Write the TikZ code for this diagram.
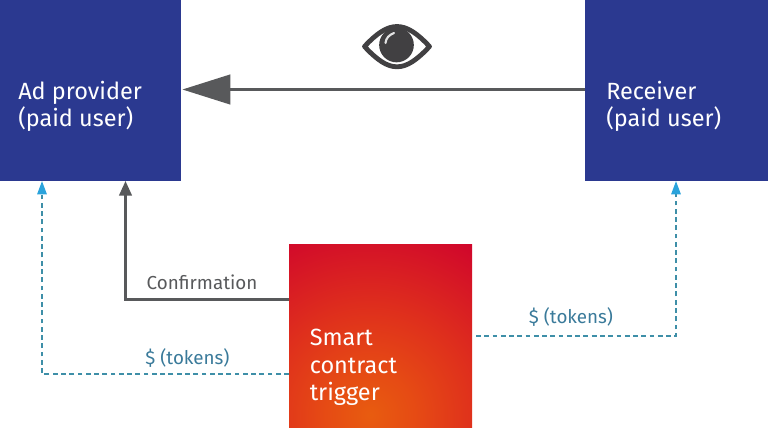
\documentclass[tikz,border=0pt]{standalone}
\usepackage{fontspec}
\setmainfont{Fira Sans}
\usetikzlibrary{arrows.meta,calc}
\definecolor{navy}{HTML}{2B3990}
\definecolor{grayline}{HTML}{58595B}
\definecolor{dashc}{HTML}{3E8FA8}
\definecolor{tipc}{HTML}{2AA3DC}
\definecolor{lab}{HTML}{3A7A9A}
\definecolor{eyec}{HTML}{414042}
\pgfdeclareradialshading{triggershade}{\pgfpoint{0bp}{0bp}}{
 rgb(0bp)=(0.91,0.36,0.06);
 rgb(4.5bp)=(0.90,0.29,0.08);
 rgb(10bp)=(0.875,0.19,0.11);
 rgb(19bp)=(0.816,0.024,0.17);
 rgb(50bp)=(0.816,0.024,0.17)}
\tikzset{
 x=0.75pt,y=-0.75pt,
 bluebox/.style={fill=navy,inner sep=0pt,outer sep=0pt},
 boxtext/.style={text=white,font=\fontsize{17.6}{20.6}\selectfont,align=left,anchor=north west,inner sep=0pt},
 solidline/.style={draw=grayline,line width=1.7pt},
 heavyline/.style={draw=grayline,line width=2.5pt},
 dashline/.style={draw=dashc,line width=1.4pt,dash pattern=on 3.6pt off 2.6pt},
 bigtip/.style={-{Triangle[length=36pt,width=22pt,fill=grayline]}},
 midtip/.style={-{Triangle[length=11pt,width=9.5pt,fill=grayline]}},
 bluetip/.style={-{Triangle[length=10pt,width=7pt,fill=tipc,color=tipc]}},
 lbl/.style={font=\fontsize{14.1}{16}\selectfont,inner sep=0pt},
}
\begin{document}
\begin{tikzpicture}
\useasboundingbox (0,0) rectangle (768,428);
\node[bluebox,minimum width=135.75pt,minimum height=135.75pt] (ad) at (90.5,90.5) {};
\node[bluebox,minimum width=137.25pt,minimum height=135.75pt] (rx) at (676.5,90.5) {};
\node[inner sep=0pt,outer sep=0pt,minimum width=137.25pt,minimum height=138pt,
  path picture={\shade[shading=triggershade] ($(path picture bounding box.center)+(-10.5,79)$) circle (195pt);}] (sc) at (380.5,336) {};
\node[boxtext] (adtxt) at (18,80.5) {Ad provider\\(paid user)};
\node[boxtext] (rxtxt) at (606,80.5) {Receiver\\(paid user)};
\node[boxtext] (sctxt) at (309.5,329) {Smart\\contract\\trigger};
% connectors
\draw[heavyline,bigtip,shorten >=1pt] (rx.west |- 0,89.5) coordinate (a1) -- (ad.east |- a1);
\coordinate (c1) at (sc.west |- 0,299.5);
\draw[solidline,midtip] (c1) -- (125.5,299.5) -- (125.5,181);
\coordinate (d1) at (sc.west |- 0,374);
\draw[dashline,bluetip] (d1) -- (42,374) -- (42,181);
\coordinate (e1) at (476,336);
\draw[dashline,bluetip] (e1) -- (676,336) -- (676,181);
% labels
\node[lbl,text=grayline] (l1) at (202,282) {Confirmation};
\node[lbl,text=lab] (l2) at (187.5,358) {\$ (tokens)};
\node[lbl,text=lab] (l3) at (571,317) {\$ (tokens)};
% eye
\draw[eyec,line width=3.6pt,line join=round] (364.5,46.5) .. controls (377,33) and (387,26.5) .. (397,26.5) .. controls (407,26.5) and (417,33) .. (429.5,46.5)
 .. controls (417,60) and (407,66.8) .. (397,66.8) .. controls (387,66.8) and (377,60) .. (364.5,46.5) -- cycle;
\fill[eyec] (396.5,45) circle (13pt);
\draw[white!85!eyec,line width=1.6pt,line cap=round] (385.5,43) .. controls (386,38) and (389,35) .. (394,33);
\end{tikzpicture}
\end{document}
